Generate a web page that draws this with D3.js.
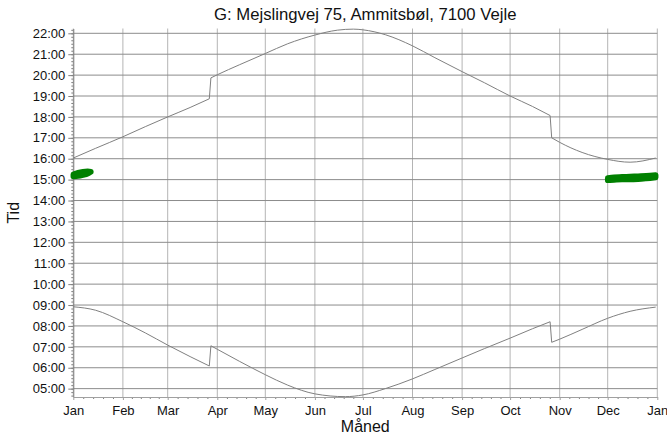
<!DOCTYPE html>
<html>
<head>
<meta charset="utf-8">
<script src="https://cdn.jsdelivr.net/npm/d3@7"></script>
<style>
  body { margin: 0; background: #fff; }
  svg { display: block; font-family: "Liberation Sans", Arial, sans-serif; }
</style>
</head>
<body>
<svg id="chart" width="667" height="442"></svg>
<script>
// Titles and tick labels
const chartTitle = "G: Mejslingvej 75, Ammitsbøl, 7100 Vejle";
const xTitle = "Måned";
const yTitle = "Tid";
const monthLabels = ["Jan", "Feb", "Mar", "Apr", "May", "Jun", "Jul", "Aug", "Sep", "Oct", "Nov", "Dec", "Jan"];
const hourTicks = [5, 6, 7, 8, 9, 10, 11, 12, 13, 14, 15, 16, 17, 18, 19, 20, 21, 22];

// First day of each new clock period (summer time on, summer time off)
const clockChangeDates = ["03-28", "10-27"];

// Sunset (local clock time)
const sunsetDates = ["01-01", "01-15", "02-01", "02-15", "03-01", "03-15", "03-27", "03-28", "04-01", "04-15",
  "05-01", "05-15", "06-01", "06-15", "06-25", "07-01", "07-15", "08-01", "08-15", "09-01", "09-15",
  "10-01", "10-15", "10-26", "10-27", "11-01", "11-15", "12-01", "12-15", "12-31"];
const sunsetTimes = ["16:02", "16:30", "17:03", "17:32", "18:00", "18:27", "18:52", "19:52", "20:01", "20:30",
  "21:02", "21:30", "21:55", "22:09", "22:12", "22:10", "21:56", "21:24", "20:50", "20:10", "19:38",
  "19:00", "18:30", "18:04", "17:00", "16:47", "16:18", "15:58", "15:50", "16:02"];

// Sunrise
const sunriseDates = ["01-01", "01-15", "02-01", "02-15", "03-01", "03-15", "03-27", "03-28", "04-01", "04-15",
  "05-01", "05-15", "06-01", "06-20", "07-01", "07-15", "08-01", "08-15", "09-01", "09-15",
  "10-01", "10-15", "10-26", "10-27", "11-01", "11-15", "12-01", "12-15", "12-31"];
const sunriseTimes = ["08:55", "08:45", "08:12", "07:40", "07:05", "06:32", "06:05", "07:03", "06:53", "06:18",
  "05:40", "05:10", "04:45", "04:37", "04:42", "05:00", "05:28", "05:55", "06:28", "06:55",
  "07:25", "07:52", "08:12", "07:13", "07:22", "07:50", "08:22", "08:42", "08:54"];

// Shadow periods (start / end per day)
const shadowJanDates = ["01-01", "01-04", "01-07", "01-10", "01-12"];
const shadowJanStart = ["15:09", "15:10", "15:13", "15:17", "15:22"];
const shadowJanEnd   = ["15:15", "15:20", "15:23", "15:24", "15:23"];
const shadowDecDates = ["12-01", "12-05", "12-10", "12-15", "12-20", "12-25", "12-31"];
const shadowDecStart = ["14:58", "14:59", "15:00", "15:00", "15:01", "15:03", "15:06"];
const shadowDecEnd   = ["15:05", "15:07", "15:08", "15:09", "15:10", "15:11", "15:13"];

const YEAR = 2021;
const toDate = s => { const [m, d] = s.split("-").map(Number); return new Date(YEAR, m - 1, d); };
const toHours = s => { const [h, m] = s.split(":").map(Number); return h + m / 60; };

const svg = d3.select("#chart");
const plotLeft = 73.3, plotRight = 657.3, plotTop = 28.5, plotBottom = 397;

const x = d3.scaleTime()
  .domain([new Date(YEAR, 0, 1), new Date(YEAR + 1, 0, 1)])
  .range([plotLeft, plotRight]);
const y = d3.scaleLinear()
  .domain([4.6, 22.23])
  .range([plotBottom, plotTop]);

const monthStarts = d3.range(13).map(i => new Date(YEAR, i, 1));

// Vertical grid at month starts
svg.append("g").selectAll("line").data(monthStarts).join("line")
  .attr("x1", d => x(d)).attr("x2", d => x(d))
  .attr("y1", plotTop).attr("y2", plotBottom)
  .attr("stroke", "#b4b4b4").attr("stroke-width", 1);

// Horizontal grid at each hour
svg.append("g").selectAll("line").data(hourTicks).join("line")
  .attr("x1", plotLeft).attr("x2", plotRight)
  .attr("y1", d => y(d)).attr("y2", d => y(d))
  .attr("stroke", "#8c8c8c").attr("stroke-width", 1);

// Y axis with 10-minute minor ticks
const minorY = d3.range(Math.ceil(4.6 * 6), Math.floor(22.23 * 6) + 1).map(v => v / 6);
svg.append("g").attr("transform", `translate(${plotLeft},0)`)
  .call(d3.axisLeft(y).tickValues(minorY).tickSize(2).tickFormat(""))
  .call(g => g.select(".domain").remove())
  .selectAll("line").attr("stroke", "#808080");
const yAxis = svg.append("g").attr("transform", `translate(${plotLeft},0)`)
  .call(d3.axisLeft(y).tickValues(hourTicks).tickSize(5).tickSizeOuter(0)
    .tickFormat(h => String(h).padStart(2, "0") + ":00"));
yAxis.select(".domain").attr("stroke", "#808080");
yAxis.selectAll(".tick line").attr("stroke", "#808080");
yAxis.selectAll("text").attr("font-size", 13).attr("fill", "#111")
  .attr("font-family", "Liberation Sans, Arial, sans-serif");

// X axis: months with minor ticks
const minorX = [];
for (let i = 0; i < 12; i++) {
  const a = +monthStarts[i], b = +monthStarts[i + 1];
  for (let k = 1; k < 5; k++) minorX.push(new Date(a + (b - a) * k / 5));
}
svg.append("g").attr("transform", `translate(0,${plotBottom})`)
  .call(d3.axisBottom(x).tickValues(minorX).tickSize(2).tickFormat(""))
  .call(g => g.select(".domain").remove())
  .selectAll("line").attr("stroke", "#808080");
const xAxis = svg.append("g").attr("transform", `translate(0,${plotBottom})`)
  .call(d3.axisBottom(x).tickValues(monthStarts).tickSize(3).tickSizeOuter(0)
    .tickFormat((d, i) => monthLabels[i]));
xAxis.select(".domain").attr("stroke", "#a0a0a0");
xAxis.selectAll(".tick line").attr("stroke", "#a0a0a0");
xAxis.selectAll("text").attr("font-size", 13).attr("fill", "#111").attr("dy", "0.9em")
  .attr("font-family", "Liberation Sans, Arial, sans-serif");

// Sunrise / sunset lines: smooth within each clock period, straight step at each change
const changeTimes = clockChangeDates.map(d => +toDate(d));
const smooth = d3.line().x(d => x(d.date)).y(d => y(d.h)).curve(d3.curveMonotoneX);
const straight = d3.line().x(d => x(d.date)).y(d => y(d.h));
function drawSeries(dates, times) {
  const pts = dates.map((d, i) => ({ date: toDate(d), h: toHours(times[i]) }));
  const periods = [[]];
  pts.forEach((p, i) => {
    if (i > 0 && changeTimes.includes(+p.date)) periods.push([]);
    periods[periods.length - 1].push(p);
  });
  const g = svg.append("g").attr("fill", "none").attr("stroke", "#808080").attr("stroke-width", 1);
  periods.forEach((seg, i) => {
    g.append("path").attr("d", smooth(seg));
    if (i > 0) {
      const prev = periods[i - 1];
      g.append("path").attr("d", straight([prev[prev.length - 1], seg[0]]));
    }
  });
}
drawSeries(sunsetDates, sunsetTimes);
drawSeries(sunriseDates, sunriseTimes);

// Shadow bands
const area = d3.area().x(d => x(d.date)).y0(d => y(d.s)).y1(d => y(d.e)).curve(d3.curveMonotoneX);
const shadowJan = shadowJanDates.map((d, i) => ({ date: toDate(d), s: toHours(shadowJanStart[i]), e: toHours(shadowJanEnd[i]) }));
const shadowDec = shadowDecDates.map((d, i) => ({ date: toDate(d), s: toHours(shadowDecStart[i]), e: toHours(shadowDecEnd[i]) }));
[shadowJan, shadowDec].forEach(band => {
  svg.append("path").datum(band)
    .attr("d", area)
    .attr("fill", "#008000").attr("stroke", "#008000")
    .attr("stroke-width", 5.5).attr("stroke-linejoin", "round").attr("stroke-linecap", "round");
});

// Titles
svg.append("text").attr("x", (plotLeft + plotRight) / 2).attr("y", 19.5)
  .attr("text-anchor", "middle").attr("font-size", 16.7).attr("fill", "#111")
  .text(chartTitle);
svg.append("text").attr("x", (plotLeft + plotRight) / 2).attr("y", 432)
  .attr("text-anchor", "middle").attr("font-size", 16).attr("fill", "#111")
  .text(xTitle);
svg.append("text").attr("transform", `translate(19,${(plotTop + plotBottom) / 2}) rotate(-90)`)
  .attr("text-anchor", "middle").attr("font-size", 16).attr("fill", "#111")
  .text(yTitle);
</script>
</body>
</html>
